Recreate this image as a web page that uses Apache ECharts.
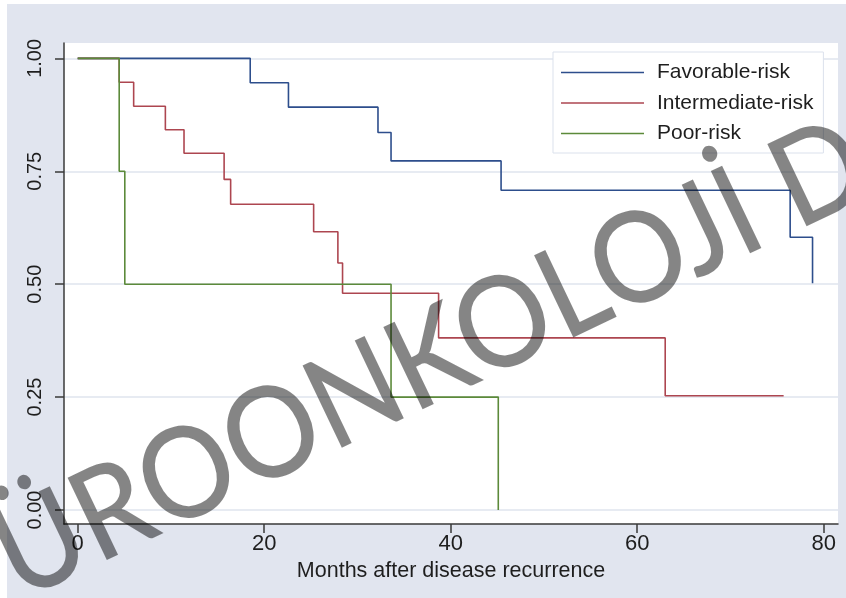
<!DOCTYPE html>
<html>
<head>
<meta charset="utf-8">
<script src="https://cdn.jsdelivr.net/npm/echarts@6/dist/echarts.min.js"></script>
<style>
html,body{margin:0;padding:0;background:#ffffff;}
#chart{width:846px;height:598px;}
</style>
</head>
<body>
<div id="chart"></div>
<script>
// ---- data ----
const seriesNames = ['Favorable-risk', 'Intermediate-risk', 'Poor-risk'];
const favorable = [[0,1],[18.5,0.946],[22.6,0.892],[32.2,0.836],[33.6,0.773],[45.4,0.708],[76.4,0.604],[78.8,0.502]];
const intermediate = [[0,1],[4.45,0.947],[6.0,0.894],[9.4,0.842],[11.4,0.790],[15.7,0.732],[16.4,0.677],[25.3,0.616],[27.9,0.547],[28.4,0.480],[38.7,0.381],[63.0,0.253],[75.7,0.253]];
const poor = [[0,1],[4.45,0.75],[5.05,0.5],[33.6,0.25],[45.1,0]];
const xTicks = [0,20,40,60,80];
const yTicks = [0,0.25,0.5,0.75,1];
const xTitle = 'Months after disease recurrence';
const watermark = 'ÜROONKOLOJİ D';

const colors = ['#2d4e8c', '#ad4650', '#5c8a3a'];
const font = '"Liberation Sans", Arial, sans-serif';

const chart = echarts.init(document.getElementById('chart'), null, {renderer:'canvas'});
const mk = (name, data, i) => ({
  name, type:'line', data, step:'end', symbol:'none', showSymbol:false,
  lineStyle:{color:colors[i], width:1.6}, itemStyle:{color:colors[i]},
  z: 3 + i, animation:false, silent:true
});
chart.setOption({
  animation:false,
  backgroundColor:'#ffffff',
  graphic:[
    {type:'rect', z:-10, silent:true, shape:{x:7,y:4,width:839,height:594}, style:{fill:'#e1e5ef'}},
    {type:'text', z:100, silent:true, x:431, y:360, rotation:0.445, scaleX:0.92, scaleY:1,
     style:{text:watermark, font:'500 127px Lato, "Open Sans", sans-serif', fill:'rgba(0,0,0,0.48)',
            textAlign:'center', textVerticalAlign:'middle'}}
  ],
  grid:{left:64, right:8, top:43, bottom:74, show:true, backgroundColor:'#ffffff', borderWidth:0, containLabel:false},
  legend:{
    orient:'vertical', left:553, top:52,
    backgroundColor:'#ffffff', borderColor:'#dbe1ec', borderWidth:1,
    padding:[10,10,9,8], itemGap:9.5, itemWidth:83, itemHeight:1.6, icon:'rect',
    textStyle:{fontFamily:font, fontSize:21, color:'#1e1e1e', padding:[0,0,0,8], lineHeight:21},
    data:seriesNames
  },
  xAxis:{
    type:'value', min:-1.47, max:81.53,
    axisLine:{show:true, onZero:false, lineStyle:{color:'#3a3a3a', width:1.5}},
    axisTick:{show:true, length:9, customValues:xTicks, lineStyle:{color:'#3a3a3a', width:1.5}},
    axisLabel:{customValues:xTicks, margin:9, fontFamily:font, fontSize:22, color:'#1e1e1e'},
    splitLine:{show:false},
    name:xTitle, nameLocation:'middle', nameGap:34,
    nameTextStyle:{fontFamily:font, fontSize:21.5, color:'#1e1e1e'}
  },
  yAxis:{
    type:'value', min:-0.031, max:1.034,
    axisLine:{show:true, onZero:false, lineStyle:{color:'#3a3a3a', width:1.5}},
    axisTick:{show:true, length:9, customValues:yTicks, lineStyle:{color:'#3a3a3a', width:1.5}},
    axisLabel:{customValues:yTicks, rotate:90, margin:19, fontFamily:font, fontSize:20, color:'#1e1e1e',
      formatter:v => v.toFixed(2)},
    splitLine:{show:true, lineStyle:{color:'#dfe4ee', width:1.5}}
  },
  series:[mk(seriesNames[0], favorable, 0), mk(seriesNames[1], intermediate, 1), mk(seriesNames[2], poor, 2)]
});
</script>
</body>
</html>
